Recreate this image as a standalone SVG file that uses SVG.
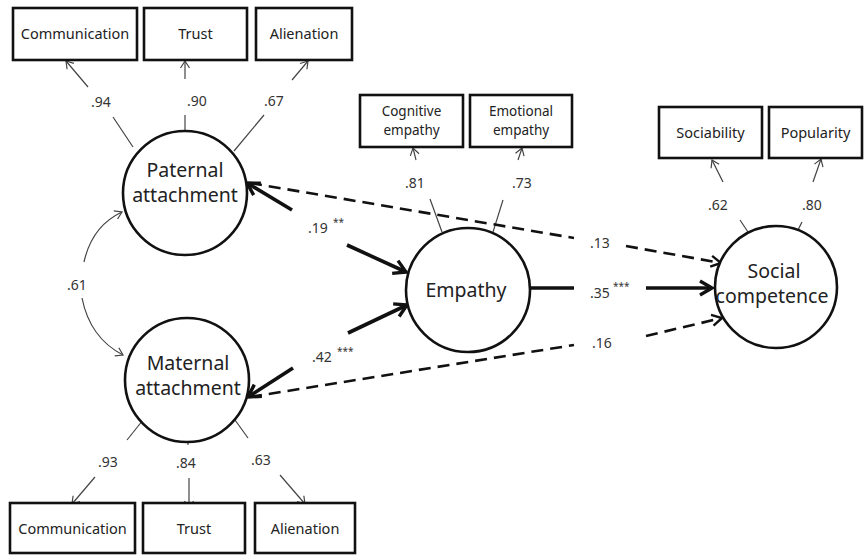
<svg xmlns="http://www.w3.org/2000/svg" width="864" height="556" viewBox="0 0 864 556">
<style>
.box{fill:#fff;stroke:#111;stroke-width:2.6}
.lat{fill:#fff;stroke:#111;stroke-width:2.6}
.bt{font-family:"Noto Sans","Open Sans",sans-serif;font-size:14.5px;fill:#222;text-anchor:middle}
.bt2{font-family:"Noto Sans","Open Sans",sans-serif;font-size:13.5px;fill:#222;text-anchor:middle}
.ct{font-family:"Noto Sans","Open Sans",sans-serif;font-size:19.5px;fill:#222;text-anchor:middle}
.lb{font-family:"Noto Sans","Open Sans",sans-serif;font-size:14px;fill:#333;text-anchor:middle}
.sup{font-family:"Noto Sans","Open Sans",sans-serif;font-size:10px;fill:#333}
.thin{stroke:#444;stroke-width:1.2;fill:none}
.thick{stroke:#111;stroke-width:3.6;fill:none}
.dash{stroke:#111;stroke-width:2.6;fill:none;stroke-dasharray:12 7}
</style>
<defs>
<marker id="ta" markerUnits="userSpaceOnUse" markerWidth="20" markerHeight="20" viewBox="-10 -10 20 20" refX="0" refY="0" orient="auto-start-reverse">
<path d="M -7,-4.5 L 0,0 L -7,4.5" fill="none" stroke="#444" stroke-width="1.2"/>
</marker>
<marker id="ka" markerUnits="userSpaceOnUse" markerWidth="30" markerHeight="30" viewBox="-15 -15 30 30" refX="0" refY="0" orient="auto-start-reverse">
<path d="M -12,-7 L 0,0 L -12,7" fill="none" stroke="#111" stroke-width="3.4"/>
</marker>
<marker id="da" markerUnits="userSpaceOnUse" markerWidth="30" markerHeight="30" viewBox="-15 -15 30 30" refX="0" refY="0" orient="auto-start-reverse">
<path d="M -10,-5.5 L 0,0 L -10,5.5" fill="none" stroke="#111" stroke-width="2.4"/>
</marker>
</defs>
<rect width="864" height="556" fill="#fff"/>

<g id="connectors">
<!-- paternal indicators -->
<line class="thin" x1="133" y1="147" x2="113" y2="117"/>
<line class="thin" x1="88" y1="87" x2="66" y2="61" marker-end="url(#ta)"/>
<line class="thin" x1="185" y1="131" x2="185" y2="115"/>
<line class="thin" x1="185" y1="79" x2="185" y2="61" marker-end="url(#ta)"/>
<line class="thin" x1="234" y1="151" x2="264" y2="115"/>
<line class="thin" x1="292" y1="80" x2="308" y2="61" marker-end="url(#ta)"/>
<!-- maternal indicators -->
<line class="thin" x1="143" y1="420" x2="127" y2="440"/>
<line class="thin" x1="95" y1="477" x2="72" y2="504" marker-end="url(#ta)"/>
<line class="thin" x1="188" y1="442" x2="188" y2="445"/>
<line class="thin" x1="189" y1="478" x2="189" y2="508" marker-end="url(#ta)"/>
<line class="thin" x1="235" y1="420" x2="248" y2="438"/>
<line class="thin" x1="280" y1="475" x2="305" y2="504" marker-end="url(#ta)"/>
<!-- empathy indicators -->
<line class="thin" x1="442" y1="232" x2="430" y2="199"/>
<line class="thin" x1="416" y1="160" x2="413" y2="148" marker-end="url(#ta)"/>
<line class="thin" x1="493" y1="232" x2="503" y2="200"/>
<line class="thin" x1="518" y1="160" x2="522" y2="148" marker-end="url(#ta)"/>
<!-- social competence indicators -->
<line class="thin" x1="748" y1="232" x2="740" y2="220"/>
<line class="thin" x1="723" y1="182" x2="712" y2="160" marker-end="url(#ta)"/>
<line class="thin" x1="797" y1="232" x2="802" y2="222"/>
<line class="thin" x1="813" y1="182" x2="821" y2="159" marker-end="url(#ta)"/>
<!-- correlation -->
<path class="thin" d="M 84,262 Q 92,226 122,212" marker-end="url(#ta)"/>
<path class="thin" d="M 82,298 Q 90,338 123,355" marker-end="url(#ta)"/>
<!-- structural paths -->
<line class="thick" x1="292" y1="210" x2="247" y2="183" marker-end="url(#ka)"/>
<line class="thick" x1="347" y1="245" x2="406" y2="272" marker-end="url(#ka)"/>
<line class="thick" x1="293" y1="368" x2="248" y2="397" marker-end="url(#ka)"/>
<line class="thick" x1="348" y1="333" x2="407" y2="305" marker-end="url(#ka)"/>
<line class="thick" x1="530" y1="288" x2="574" y2="288"/>
<line class="thick" x1="646" y1="288" x2="712" y2="288" marker-end="url(#ka)"/>
<line class="dash" x1="250" y1="183" x2="574" y2="238"/>
<line class="dash" x1="626" y1="246" x2="721" y2="263" marker-end="url(#da)"/>
<line class="dash" x1="250" y1="397" x2="574" y2="345"/>
<line class="dash" x1="646" y1="336" x2="722" y2="318" marker-end="url(#da)"/>
</g>

<g id="labels">
<text class="lb" x="101" y="107">.94</text>
<text class="lb" x="197" y="106">.90</text>
<text class="lb" x="274" y="106">.67</text>
<text class="lb" x="108" y="467">.93</text>
<text class="lb" x="186" y="468">.84</text>
<text class="lb" x="261" y="465">.63</text>
<text class="lb" x="415" y="188">.81</text>
<text class="lb" x="522" y="188">.73</text>
<text class="lb" x="718" y="210">.62</text>
<text class="lb" x="812" y="210">.80</text>
<text class="lb" x="77" y="290">.61</text>
<text class="lb" x="318" y="233">.19</text>
<text class="sup" x="333" y="226">**</text>
<text class="lb" x="322" y="362">.42</text>
<text class="sup" x="337" y="355">***</text>
<text class="lb" x="600" y="248">.13</text>
<text class="lb" x="600" y="298">.35</text>
<text class="sup" x="613" y="290">***</text>
<text class="lb" x="602" y="348">.16</text>
</g>

<g id="paternal-communication"><rect class="box" x="13" y="8" width="124" height="52"/><text class="bt" x="75" y="39">Communication</text></g>
<g id="paternal-trust"><rect class="box" x="144" y="8" width="103" height="52"/><text class="bt" x="195.5" y="39">Trust</text></g>
<g id="paternal-alienation"><rect class="box" x="256" y="8" width="96" height="52"/><text class="bt" x="304" y="39">Alienation</text></g>

<g id="maternal-communication"><rect class="box" x="10" y="503" width="125" height="50"/><text class="bt" x="72.5" y="534">Communication</text></g>
<g id="maternal-trust"><rect class="box" x="143" y="503" width="102" height="50"/><text class="bt" x="194" y="534">Trust</text></g>
<g id="maternal-alienation"><rect class="box" x="255" y="503" width="100" height="50"/><text class="bt" x="305" y="534">Alienation</text></g>

<g id="cognitive-empathy"><rect class="box" x="360" y="95" width="103" height="52"/><text class="bt2" x="411.5" y="116">Cognitive</text><text class="bt2" x="411.5" y="135">empathy</text></g>
<g id="emotional-empathy"><rect class="box" x="470" y="95" width="102" height="52"/><text class="bt2" x="521" y="116">Emotional</text><text class="bt2" x="521" y="135">empathy</text></g>

<g id="sociability"><rect class="box" x="659" y="107" width="103" height="51"/><text class="bt" x="710.5" y="138">Sociability</text></g>
<g id="popularity"><rect class="box" x="769" y="107" width="93" height="51"/><text class="bt" x="815.5" y="138">Popularity</text></g>

<g id="paternal-attachment"><circle class="lat" cx="185" cy="193" r="62"/><text class="ct" x="185" y="177">Paternal</text><text class="ct" x="185" y="202">attachment</text></g>
<g id="maternal-attachment"><circle class="lat" cx="187" cy="380" r="62"/><text class="ct" x="188" y="370">Maternal</text><text class="ct" x="188" y="395">attachment</text></g>
<g id="empathy"><circle class="lat" cx="468" cy="290" r="62"/><text class="ct" x="466" y="297">Empathy</text></g>
<g id="social-competence"><circle class="lat" cx="776" cy="287" r="61"/><text class="ct" x="774" y="278">Social</text><text class="ct" x="772" y="303">competence</text></g>
</svg>
